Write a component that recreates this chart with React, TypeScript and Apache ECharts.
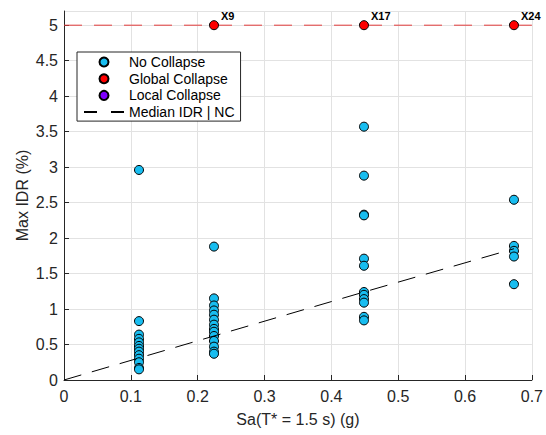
import React, { useEffect, useRef } from 'react';
import * as echarts from 'echarts';

const FONT = '"Liberation Sans", Arial, Helvetica, sans-serif';

// Intensity levels Sa(T*=1.5s) in g
const imLevels = [0.1122, 0.2244, 0.4488, 0.6732];

// Max IDR (%) of non-collapse records at each intensity level
const ncIdrLevel1 = [2.96, 0.83, 0.64, 0.58, 0.53, 0.48, 0.44, 0.4, 0.35, 0.3, 0.25, 0.17, 0.15];
const ncIdrLevel2 = [1.88, 1.15, 1.05, 0.98, 0.92, 0.85, 0.78, 0.72, 0.68, 0.62, 0.55, 0.47, 0.4, 0.37];
const ncIdrLevel3 = [3.57, 2.88, 2.33, 2.32, 1.71, 1.61, 1.24, 1.2, 1.14, 1.09, 0.89, 0.84];
const ncIdrLevel4 = [2.54, 1.89, 1.82, 1.74, 1.35];

// Global collapse records (plotted at IDR cap)
const globalCollapseIm = [0.2244, 0.4488, 0.6732];
const globalCollapseLabels = ['X9', 'X17', 'X24'];
const collapseIdrCap = 5;

// Local collapse records (none)
const localCollapseIm: number[] = [];
const localCollapseIdr: number[] = [];

// Median IDR of non-collapse records
const medianIm = [0, 0.1122, 0.2244, 0.4488, 0.6732];
const medianIdr = [0, 0.31, 0.62, 1.24, 1.85];

const xTicks = [0, 0.1, 0.2, 0.3, 0.4, 0.5, 0.6, 0.7];

const AXIS_COLOR = '#262626';
const GRID_COLOR = '#e2e2e2';
const NC_COLOR = '#18bdf0';
const GC_COLOR = '#ff0000';
const LC_COLOR = '#8000ff';

export default function App() {
  const ref = useRef<HTMLDivElement>(null);

  useEffect(() => {
    const chart = echarts.init(ref.current!, null, { renderer: 'svg' });

    const ncLevels = [ncIdrLevel1, ncIdrLevel2, ncIdrLevel3, ncIdrLevel4];
    const ncData: number[][] = [];
    ncLevels.forEach((arr, i) => arr.forEach((v) => ncData.push([imLevels[i], v])));

    const gcData = globalCollapseIm.map((x, i) => ({
      name: globalCollapseLabels[i],
      value: [x, collapseIdrCap],
    }));
    const lcData = localCollapseIm.map((x, i) => [x, localCollapseIdr[i]]);
    const medData = medianIm.map((x, i) => [x, medianIdr[i]]);

    chart.setOption({
      animation: false,
      textStyle: { fontFamily: FONT },
      grid: { left: 64, right: 14, top: 11, bottom: 55, containLabel: false },
      legend: {
        orient: 'vertical',
        left: 77,
        top: 52,
        padding: [2, 6, 1, 6],
        itemWidth: 40,
        itemHeight: 9,
        itemGap: 0.7,
        backgroundColor: '#ffffff',
        borderColor: AXIS_COLOR,
        borderWidth: 1,
        textStyle: { fontSize: 14, color: '#000', lineHeight: 16, fontFamily: FONT },
        data: [
          { name: 'No Collapse' },
          { name: 'Global Collapse' },
          { name: 'Local Collapse' },
          {
            name: 'Median IDR | NC',
            lineStyle: { type: [13, 14] },
            itemStyle: { opacity: 0 },
          },
        ],
      },
      xAxis: {
        type: 'value',
        min: xTicks[0],
        max: xTicks[xTicks.length - 1],
        interval: 0.1,
        name: 'Sa(T* = 1.5 s) (g)',
        nameLocation: 'middle',
        nameGap: 31,
        nameMoveOverlap: false,
        nameTextStyle: { fontSize: 16, color: AXIS_COLOR, fontFamily: FONT },
        axisLine: { show: true, onZero: false, lineStyle: { color: AXIS_COLOR, width: 1 } },
        axisTick: { show: true, inside: true, length: 5, lineStyle: { color: AXIS_COLOR } },
        axisLabel: { fontSize: 16, color: AXIS_COLOR, margin: 8, fontFamily: FONT },
        splitLine: { show: true, lineStyle: { color: GRID_COLOR, width: 1 } },
      },
      yAxis: {
        type: 'value',
        min: 0,
        max: 5.2,
        interval: 0.5,
        name: 'Max IDR (%)',
        nameLocation: 'middle',
        nameGap: 34,
        nameMoveOverlap: false,
        nameTextStyle: { fontSize: 16, color: AXIS_COLOR, fontFamily: FONT },
        axisLine: { show: true, onZero: false, lineStyle: { color: AXIS_COLOR, width: 1 } },
        axisTick: { show: true, inside: true, length: 5, lineStyle: { color: AXIS_COLOR } },
        axisLabel: { fontSize: 16, color: AXIS_COLOR, margin: 6, showMaxLabel: false, fontFamily: FONT },
        splitLine: { show: true, lineStyle: { color: GRID_COLOR, width: 1 } },
      },
      series: [
        {
          name: 'Collapse cap',
          type: 'line',
          data: [[xTicks[0], collapseIdrCap], [xTicks[xTicks.length - 1], collapseIdrCap]],
          symbol: 'none',
          silent: true,
          lineStyle: { color: '#e33b3b', width: 1, type: [18, 12] },
          z: 1,
        },
        {
          name: 'No Collapse',
          type: 'scatter',
          data: ncData,
          symbol: 'circle',
          symbolSize: 9,
          itemStyle: { color: NC_COLOR, borderColor: '#000', borderWidth: 1, opacity: 1 },
          z: 2,
        },
        {
          name: 'Global Collapse',
          type: 'scatter',
          data: gcData,
          symbol: 'circle',
          symbolSize: 9,
          itemStyle: { color: GC_COLOR, borderColor: '#000', borderWidth: 1, opacity: 1 },
          label: {
            show: true,
            formatter: '{b}',
            position: 'right',
            distance: 3,
            offset: [-1, -9],
            fontSize: 11,
            fontWeight: 'bold',
            color: '#000',
            fontFamily: FONT,
          },
          z: 3,
        },
        {
          name: 'Local Collapse',
          type: 'scatter',
          data: lcData,
          symbol: 'circle',
          symbolSize: 9,
          itemStyle: { color: LC_COLOR, borderColor: '#000', borderWidth: 1, opacity: 1 },
          z: 3,
        },
        {
          name: 'Median IDR | NC',
          type: 'line',
          data: medData,
          symbol: 'none',
          showSymbol: false,
          lineStyle: { color: '#000', width: 1, type: [18, 11] },
          itemStyle: { color: '#000' },
          z: 5,
        },
      ],
    });

    return () => chart.dispose();
  }, []);

  return (
    <div
      ref={ref}
      style={{ position: 'absolute', left: 0, top: 0, width: 546, height: 435, background: '#fff' }}
    />
  );
}
